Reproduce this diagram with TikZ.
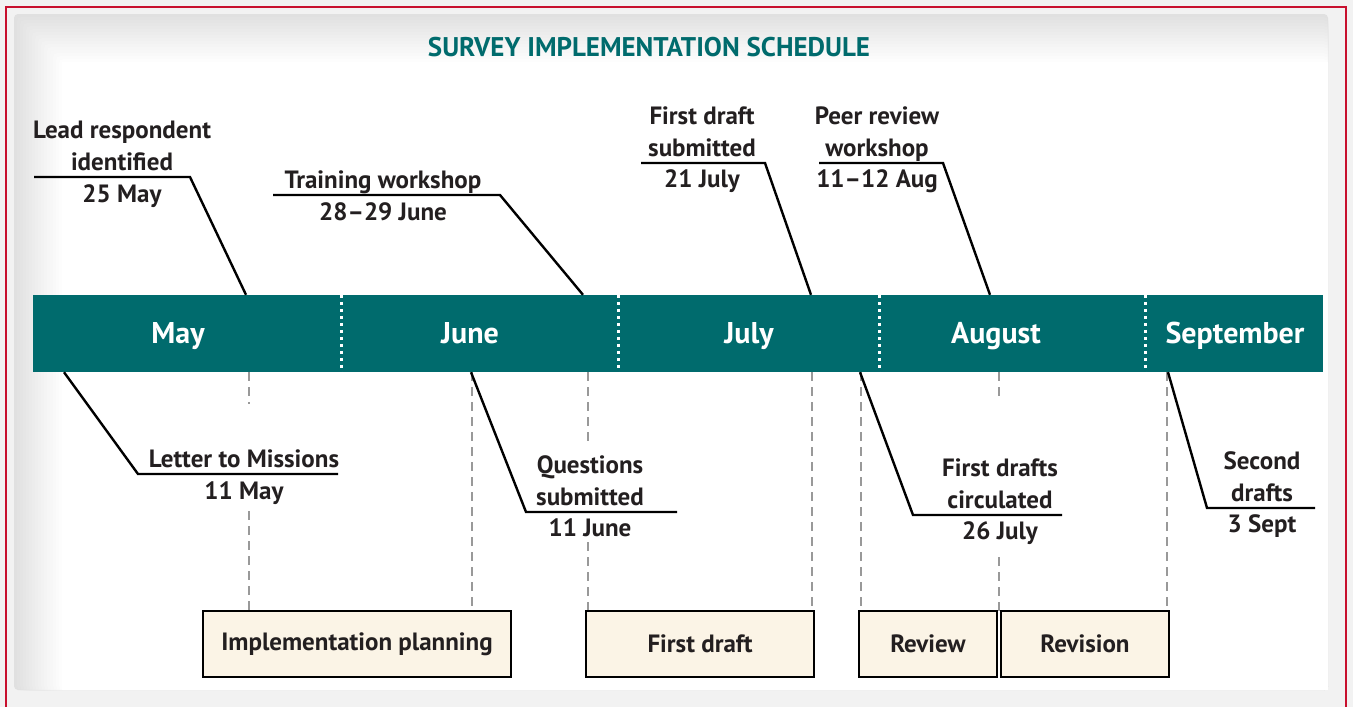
\documentclass[tikz,border=0pt]{standalone}
\usepackage{fontspec}
\setmainfont{PT Sans}
\usepackage{xcolor}
\usepackage{tikz}
\usetikzlibrary{calc,positioning}
\definecolor{petrol}{HTML}{006B6D}
\definecolor{cream}{HTML}{FBF4E6}
\definecolor{frame}{HTML}{C8102E}
\definecolor{ink}{HTML}{231F20}
\tikzset{
  bar/.style={fill=petrol,draw=none,minimum width=1290pt,minimum height=77pt,inner sep=0pt},
  month/.style={text=white,font=\bfseries\fontsize{30}{34}\selectfont,anchor=base,inner sep=0pt},
  event/.style={text=ink,font=\bfseries\fontsize{25}{31.5}\selectfont,align=center,anchor=base,inner sep=0pt},
  task/.style={fill=cream,draw=black,line width=2.6pt,minimum height=66pt,inner sep=0pt,text=ink,font=\bfseries\fontsize{25}{30}\selectfont},
  guide/.style={draw=black!40,line width=2pt,dash pattern=on 9pt off 6pt},
  leader/.style={draw=black,line width=2.4pt},
  divider/.style={draw=white,line width=3pt,dash pattern=on 3.5pt off 3.5pt},
  heading/.style={text=petrol,font=\bfseries\fontsize{27}{30}\selectfont,anchor=base,inner sep=0pt}
}

\begin{document}
\begin{tikzpicture}[x=1pt,y=-1pt]
\useasboundingbox (0,0) rectangle (1353,707);
\fill[black!5] (0,0) rectangle (1353,707);
\foreach \s in {0,...,15}{
  \pgfmathsetmacro\g{12-0.75*\s}
  \fill[black!\g,rounded corners=4pt] (14+3*\s,14+3*\s) rectangle (1328,690);
}
\fill[white] (62,62) rectangle (1328,690);
\draw[frame,line width=2pt] (6,7) rectangle (1346,730);

\node[heading] (title) at (649,56) {SURVEY IMPLEMENTATION SCHEDULE};

\node[bar] (bar) at (678,333.5) {};
\foreach \x in {341,618,879,1145}
  \draw[divider] (\x,0 |- bar.north) -- (\x,0 |- bar.south);
\node[month] (may) at (178,343) {May};
\node[month] (june) at (470,343) {June};
\node[month] (july) at (749,343) {July};
\node[month] (aug) at (996,343) {August};
\node[month] (sep) at (1235,343) {September};

\draw[guide] (249,0 |- bar.south) -- (249,404);
\draw[guide] (249,511) -- (249,611);
\draw[guide] (472,0 |- bar.south) -- (472,611);
\draw[guide] (588,0 |- bar.south) -- (588,442);
\draw[guide] (588,542) -- (588,611);
\draw[guide] (812,0 |- bar.south) -- (812,611);
\draw[guide] (861,0 |- bar.south) -- (861,611);
\draw[guide] (999,0 |- bar.south) -- (999,402);
\draw[guide] (999,557) -- (999,611);
\draw[guide] (1167,0 |- bar.south) -- (1167,611);

\node[task,minimum width=308pt] (plan) at (357,644) {Implementation planning};
\node[task,minimum width=228pt] (draft) at (700,644) {First draft};
\node[task,minimum width=138pt] (review) at (928,644) {Review};
\node[task,minimum width=168pt] (revision) at (1085,644) {Revision};

% above the bar
\node[event] (leadT) at (122,170) {Lead respondent\\identified};
\node[event] (leadD) at (122,202) {25 May};
\coordinate (leadL) at (34,177); \coordinate (leadR) at (190,177);
\draw[leader] (leadL) -- (leadR) -- (246,0 |- bar.north);

\node[event] (trainT) at (383,188) {Training workshop};
\node[event] (trainD) at (383,220) {28–29 June};
\coordinate (trainL) at (273,195); \coordinate (trainR) at (500,195);
\draw[leader] (trainL) -- (trainR) -- (583,0 |- bar.north);

\node[event] (fdT) at (702,156) {First draft\\submitted};
\node[event] (fdD) at (702,187) {21 July};
\coordinate (fdL) at (641,163); \coordinate (fdR) at (765,163);
\draw[leader] (fdL) -- (fdR) -- (811,0 |- bar.north);

\node[event] (peerT) at (877,156) {Peer review\\workshop};
\node[event] (peerD) at (877,187) {11–12 Aug};
\coordinate (peerL) at (819,163); \coordinate (peerR) at (943,163);
\draw[leader] (peerL) -- (peerR) -- (990,0 |- bar.north);

% below the bar
\node[event] (letT) at (244,467) {Letter to Missions};
\node[event] (letD) at (244,499) {11 May};
\coordinate (letL) at (138,474); \coordinate (letR) at (338,474);
\draw[leader] (64,0 |- bar.south) -- (letL) -- (letR);

\node[event] (qT) at (590,505) {Questions\\submitted};
\node[event] (qD) at (590,536) {11 June};
\coordinate (qL) at (526,512); \coordinate (qR) at (677,512);
\draw[leader] (471,0 |- bar.south) -- (qL) -- (qR);

\node[event] (circT) at (1000,508) {First drafts\\circulated};
\node[event] (circD) at (1000,539) {26 July};
\coordinate (circL) at (913,515); \coordinate (circR) at (1062,515);
\draw[leader] (860,0 |- bar.south) -- (circL) -- (circR);

\node[event] (secT) at (1262,501) {Second\\drafts};
\node[event] (secD) at (1262,532) {3 Sept};
\coordinate (secL) at (1207,508); \coordinate (secR) at (1315,508);
\draw[leader] (1168,0 |- bar.south) -- (secL) -- (secR);
\end{tikzpicture}
\end{document}
